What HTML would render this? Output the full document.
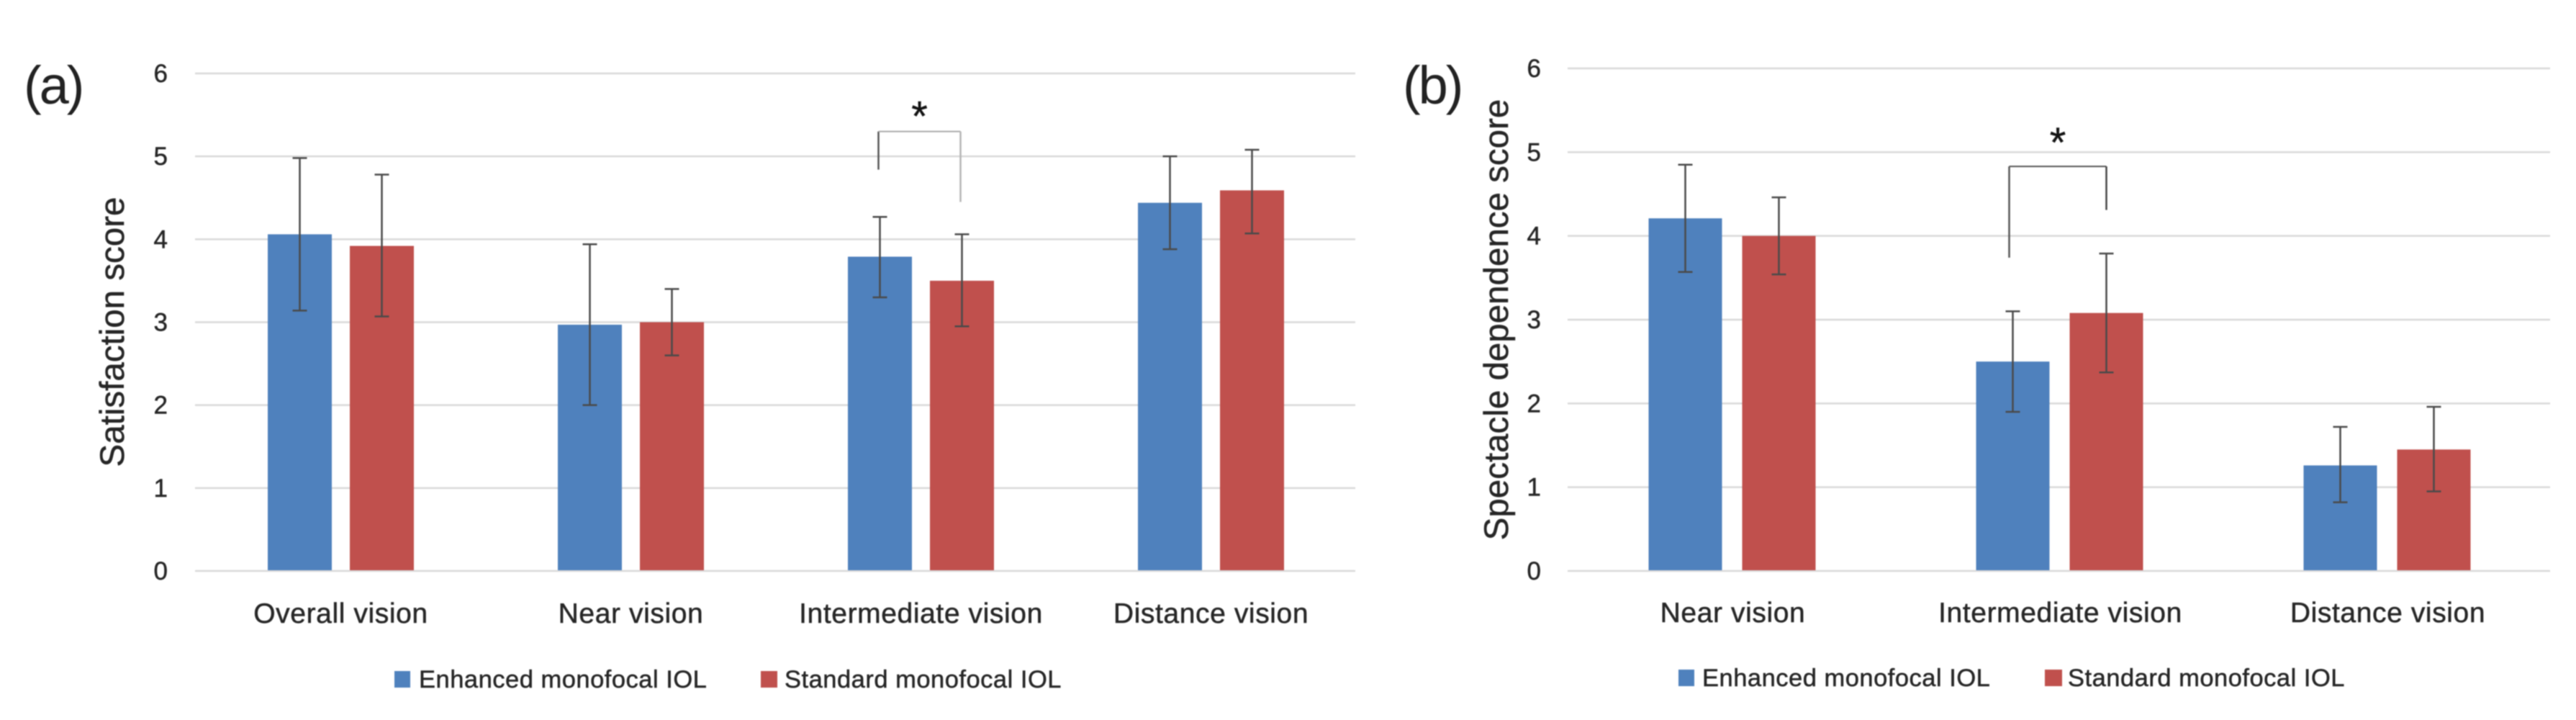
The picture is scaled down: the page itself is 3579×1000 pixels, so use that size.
<!DOCTYPE html>
<html lang="en">
<head>
<meta charset="utf-8">
<title>Satisfaction and spectacle dependence scores</title>
<style>
html,body{margin:0;padding:0;background:#fff;width:3579px;height:1000px;overflow:hidden}
svg{display:block;filter:blur(0.8px)}
text{font-family:"Liberation Sans","DejaVu Sans",sans-serif;fill:#262626;stroke:#262626;stroke-width:0.5px}
.tick{font-size:35px}
.cat{font-size:39px;letter-spacing:0.6px;text-anchor:middle}
.leg{font-size:34.5px;letter-spacing:0.5px}
.ytitle{font-size:47.5px;text-anchor:middle}
.panel{font-size:74px;letter-spacing:-3px;fill:#222;stroke:none}
.star{font-size:58px;text-anchor:middle;fill:#111}
</style>
</head>
<body>
<svg id="figure" xmlns="http://www.w3.org/2000/svg" width="3579" height="1000" viewBox="0 0 3579 1000">
  <rect x="0" y="0" width="3579" height="1000" fill="#fff"/>
  <g id="chart-a"></g>
  <g id="chart-b"></g>

  <text class="panel" x="33" y="144">(a)</text>
  <text class="panel" x="1949" y="144">(b)</text>

  <text class="ytitle" transform="translate(172,461) rotate(-90)">Satisfaction score</text>
  <text class="ytitle" transform="translate(2095,444) rotate(-90)">Spectacle dependence score</text>

  <g>
    <rect x="548" y="932" width="22" height="23" fill="#4f81bd"/>
    <text class="leg" x="582" y="955">Enhanced monofocal IOL</text>
    <rect x="1057" y="932" width="23" height="23" fill="#c0504d"/>
    <text class="leg" x="1090" y="955">Standard monofocal IOL</text>
  </g>
  <g>
    <rect x="2332" y="930" width="22" height="23" fill="#4f81bd"/>
    <text class="leg" x="2365" y="953">Enhanced monofocal IOL</text>
    <rect x="2841" y="930" width="24" height="23" fill="#c0504d"/>
    <text class="leg" x="2873" y="953">Standard monofocal IOL</text>
  </g>
</svg>

<script>
// Shared axis tick labels
var yTickLabels = [0, 1, 2, 3, 4, 5, 6];

// Chart (a) data: satisfaction score
var categoriesA = ["Overall vision", "Near vision", "Intermediate vision", "Distance vision"];
var enhancedA = [4.06, 2.97, 3.79, 4.44];
var enhancedAHigh = [4.98, 3.94, 4.27, 5.00];
var enhancedALow = [3.14, 2.00, 3.30, 3.88];
var standardA = [3.92, 3.00, 3.50, 4.59];
var standardAHigh = [4.78, 3.40, 4.06, 5.08];
var standardALow = [3.07, 2.60, 2.95, 4.07];

// Chart (b) data: spectacle dependence score
var categoriesB = ["Near vision", "Intermediate vision", "Distance vision"];
var enhancedB = [4.21, 2.50, 1.26];
var enhancedBHigh = [4.85, 3.10, 1.72];
var enhancedBLow = [3.57, 1.90, 0.82];
var standardB = [4.00, 3.08, 1.45];
var standardBHigh = [4.46, 3.79, 1.96];
var standardBLow = [3.54, 2.37, 0.95];

var SVG_NS = "http://www.w3.org/2000/svg";

function make(parent, tag, attrs, content) {
  var el = document.createElementNS(SVG_NS, tag);
  for (var key in attrs) {
    el.setAttribute(key, attrs[key]);
  }
  if (content !== undefined) {
    el.textContent = content;
  }
  parent.appendChild(el);
  return el;
}

function drawChart(root, layout, categories, seriesList) {
  var yMax = yTickLabels[yTickLabels.length - 1];
  function yScale(v) {
    return layout.bottom - (v / yMax) * (layout.bottom - layout.top);
  }
  var band = (layout.right - layout.left) / categories.length;
  function barX(catIndex, seriesIndex) {
    var center = layout.left + band * (catIndex + 0.5) + layout.shift;
    var group = layout.barWidth * seriesList.length + layout.gap * (seriesList.length - 1);
    return center - group / 2 + seriesIndex * (layout.barWidth + layout.gap);
  }

  yTickLabels.forEach(function (t) {
    var line = make(root, "line", {
      x1: layout.left, x2: layout.right, y1: yScale(t), y2: yScale(t),
      stroke: "#d9d9d9", "stroke-width": 2.5
    });
    
    
    var label = make(root, "text", {
      "class": "tick", x: layout.tickX, y: yScale(t) + 12, "text-anchor": "end"
    }, String(t));
    
    
  });

  seriesList.forEach(function (series, s) {
    series.values.forEach(function (v, i) {
      var bar = make(root, "rect", {
        x: barX(i, s), y: yScale(v), width: layout.barWidth,
        height: yScale(0) - yScale(v) - 1, fill: series.color
      });
      
      
    });
  });

  seriesList.forEach(function (series, s) {
    series.values.forEach(function (v, i) {
      var cx = barX(i, s) + layout.barWidth / 2;
      var hi = yScale(series.high[i]);
      var lo = yScale(series.low[i]);
      var g = make(root, "g", { stroke: "#4a4a4a", "stroke-width": 2.5 });
      
      
      make(g, "line", { x1: cx, x2: cx, y1: hi, y2: lo });
      make(g, "line", { x1: cx - 10, x2: cx + 10, y1: hi, y2: hi });
      make(g, "line", { x1: cx - 10, x2: cx + 10, y1: lo, y2: lo });
    });
  });

  categories.forEach(function (name, i) {
    var cat = make(root, "text", {
      "class": "cat", x: layout.left + band * (i + 0.5) + layout.labelShift, y: layout.labelY
    }, name);
    
    
  });

  // Significance bracket over the marked category
  var b = layout.bracket;
  var xL = barX(b.category, 0) + layout.barWidth / 2 + b.offset;
  var xR = barX(b.category, 1) + layout.barWidth / 2 + b.rightOffset;
  var yTop = yScale(b.topValue);
  var bracket = make(root, "g", { fill: "none" });
  
  
  make(bracket, "line", { x1: xL, x2: xL, y1: yTop, y2: yScale(b.leftEnd), stroke: "#555", "stroke-width": 2.5 });
  make(bracket, "line", { x1: xL, x2: xR, y1: yTop, y2: yTop, stroke: b.lineColor, "stroke-width": 2 });
  make(bracket, "line", { x1: xR, x2: xR, y1: yTop, y2: yScale(b.rightEnd), stroke: b.rightColor, "stroke-width": 2.5 });
  var star = make(root, "text", {
    "class": "star", x: (xL + xR) / 2 + b.starShift, y: yTop + b.starDy
  }, "*");
  
  
}

drawChart(document.getElementById("chart-a"),
  { left: 271, right: 1883, top: 102, bottom: 793, barWidth: 89, gap: 25, shift: 1,
    tickX: 233, labelY: 865, labelShift: 1,
    bracket: { category: 2, offset: -2, rightOffset: -2, topValue: 5.30, leftEnd: 4.84, rightEnd: 4.45,
               lineColor: "#aaaaaa", rightColor: "#b5b5b5", starShift: 0, starDy: -1 } },
  categoriesA,
  [
    { values: enhancedA, high: enhancedAHigh, low: enhancedALow, color: "#4f81bd" },
    { values: standardA, high: standardAHigh, low: standardALow, color: "#c0504d" }
  ]);

drawChart(document.getElementById("chart-b"),
  { left: 2178, right: 3543, top: 95, bottom: 793, barWidth: 102, gap: 28, shift: 1,
    tickX: 2141, labelY: 864, labelShift: 2,
    bracket: { category: 1, offset: -5, rightOffset: 0, topValue: 4.83, leftEnd: 3.74, rightEnd: 4.31,
               lineColor: "#555", rightColor: "#444", starShift: 0, starDy: -13 } },
  categoriesB,
  [
    { values: enhancedB, high: enhancedBHigh, low: enhancedBLow, color: "#4f81bd" },
    { values: standardB, high: standardBHigh, low: standardBLow, color: "#c0504d" }
  ]);
</script>
</body>
</html>
